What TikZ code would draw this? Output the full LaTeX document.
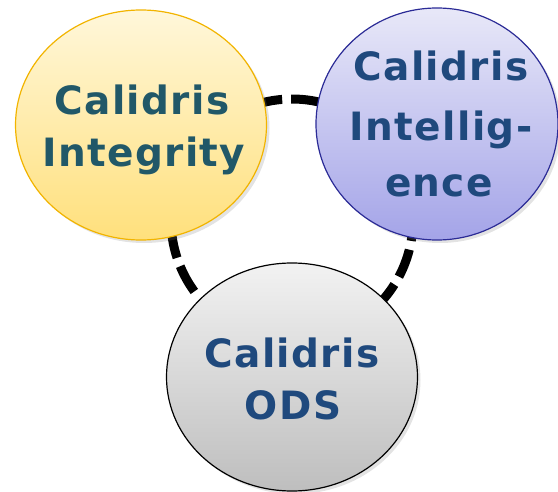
\documentclass[tikz,border=0pt]{standalone}
\usepackage{fontspec}
\setmainfont{DejaVu Sans}
\newfontfamily\lblfont{DejaVu Sans}[LetterSpace=3.5]
\usetikzlibrary{shapes.geometric,shadows,calc}
\definecolor{ytop}{HTML}{FFF7DA}
\definecolor{ybot}{HTML}{FFE07C}
\definecolor{yedge}{HTML}{F2B400}
\definecolor{ptop}{HTML}{E8E8F8}
\definecolor{pbot}{HTML}{A4A4E8}
\definecolor{pedge}{HTML}{2B2B96}
\definecolor{gtop}{HTML}{F2F2F2}
\definecolor{gbot}{HTML}{BEBEBE}
\definecolor{tealtxt}{HTML}{215868}
\definecolor{bluetxt}{HTML}{1F497D}
\tikzset{
  bubble/.style={ellipse, inner sep=0pt, line width=1.2pt,
    drop shadow={opacity=0.22, shadow xshift=3pt, shadow yshift=-3pt}},
  lbl/.style={anchor=base, inner sep=0pt, font=\lblfont\bfseries\fontsize{39pt}{46pt}\selectfont},
  ring/.style={line width=9pt, dash pattern=on 29pt off 9pt}
}
\begin{document}
\begin{tikzpicture}[x=1pt,y=-1pt]
\useasboundingbox (0,0) rectangle (558,492);
\coordinate (ringc) at (292,220);
\coordinate (topA) at ($(ringc)+(251.6:121)$);
\coordinate (leftA) at ($(ringc)+(143.8:121)$);
\coordinate (rightA) at ($(ringc)+(-3.8:121)$);
% connectors (drawn behind the bubbles)
\draw[ring] (topA) arc[start angle=251.6, end angle=300, radius=121];
\draw[ring] (leftA) arc[start angle=143.8, end angle=200, radius=121];
\draw[ring] (rightA) arc[start angle=-3.8, end angle=60, radius=121];
\node[bubble, draw=yedge, top color=ytop, bottom color=ybot,
  minimum width=251pt, minimum height=230pt] (integ) at (141,125) {};
\node[bubble, draw=pedge, top color=ptop, bottom color=pbot,
  minimum width=242pt, minimum height=232pt] (intel) at (437,124) {};
\node[bubble, draw=black, top color=gtop, bottom color=gbot,
  minimum width=251pt, minimum height=228pt] (ods) at (292,377) {};
\node[lbl, text=tealtxt] (i1) at (142,115) {Calidris};
\node[lbl, text=tealtxt] (i2) at (144,167) {Integrity};
\node[lbl, text=bluetxt] (p1) at (441,81) {Calidris};
\node[lbl, text=bluetxt] (p2) at (441,141) {Intellig-};
\node[lbl, text=bluetxt] (p3) at (439,197) {ence};
\node[lbl, text=bluetxt] (o1) at (292,368) {Calidris};
\node[lbl, text=bluetxt] (o2) at (293,420) {ODS};
\end{tikzpicture}
\end{document}
